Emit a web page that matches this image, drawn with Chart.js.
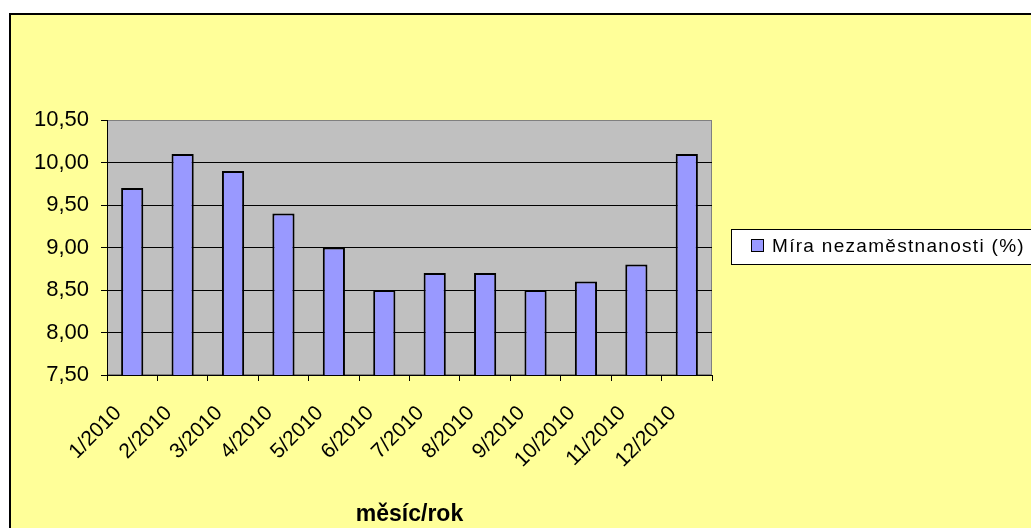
<!DOCTYPE html>
<html>
<head>
<meta charset="utf-8">
<script src="https://cdn.jsdelivr.net/npm/chart.js@4"></script>
<style>
  html, body { margin: 0; padding: 0; background: #ffffff; }
  #c { display: block; }
</style>
</head>
<body>
<canvas id="c" width="1031" height="528"></canvas>
<script>
const categories = ['1/2010','2/2010','3/2010','4/2010','5/2010','6/2010','7/2010','8/2010','9/2010','10/2010','11/2010','12/2010'];
const seriesLabel = 'Míra nezaměstnanosti (%)';
const unemployment = [9.7, 10.1, 9.9, 9.4, 9.0, 8.5, 8.7, 8.7, 8.5, 8.6, 8.8, 10.1];
const yTicks = [7.5, 8.0, 8.5, 9.0, 9.5, 10.0, 10.5];
const xTitle = 'měsíc/rok';

const FONT = "'Liberation Sans', Arial, sans-serif";

const frame = {
  id: 'frame',
  beforeDraw(chart) {
    const ctx = chart.ctx;
    const a = chart.chartArea;
    ctx.save();
    ctx.fillStyle = '#ffffff';
    ctx.fillRect(0, 0, chart.width, chart.height);
    ctx.fillStyle = '#000000';
    ctx.fillRect(9, 13, chart.width - 9, chart.height - 13);
    ctx.fillStyle = '#FFFF99';
    ctx.fillRect(11, 15, chart.width - 11, chart.height - 15);
    // plot area
    ctx.fillStyle = '#C0C0C0';
    ctx.fillRect(a.left, a.top, a.right - a.left, a.bottom - a.top);
    ctx.strokeStyle = '#808080';
    ctx.lineWidth = 1;
    ctx.strokeRect(a.left + 0.5, a.top + 0.5, a.right - a.left - 1, a.bottom - a.top - 1);
    ctx.restore();
  },
  afterDraw(chart) {
    const ctx = chart.ctx;
    const ds = chart.data.datasets[0];
    ctx.save();
    // legend box
    ctx.fillStyle = '#ffffff';
    ctx.fillRect(731.5, 229.5, 310, 35);
    ctx.strokeStyle = '#000000';
    ctx.lineWidth = 1;
    ctx.strokeRect(731.5, 229.5, 310, 35);
    ctx.fillStyle = ds.backgroundColor;
    ctx.fillRect(751.5, 239.5, 12, 12);
    ctx.strokeRect(751.5, 239.5, 12, 12);
    ctx.fillStyle = '#000000';
    ctx.font = "19px " + FONT;
    ctx.textBaseline = 'middle';
    ctx.textAlign = 'left';
    try { ctx.letterSpacing = '1.3px'; } catch (e) {}
    ctx.fillText(ds.label, 772, 246.5);
    ctx.restore();
  }
};

new Chart(document.getElementById('c'), {
  type: 'bar',
  data: {
    labels: categories,
    datasets: [{
      label: seriesLabel,
      data: unemployment,
      backgroundColor: '#9999FF',
      borderColor: '#000000',
      borderWidth: 2,
      borderSkipped: 'bottom',
      barPercentage: 0.44,
      categoryPercentage: 1.0
    }]
  },
  plugins: [frame],
  options: {
    responsive: false,
    animation: false,
    devicePixelRatio: 1,
    layout: { padding: { left: 0, top: 120, right: 319, bottom: 0 } },
    plugins: {
      legend: { display: false },
      tooltip: { enabled: false },
      title: { display: false }
    },
    scales: {
      x: {
        offset: true,
        grid: {
          offset: true,
          drawOnChartArea: false,
          drawTicks: true,
          tickLength: 6,
          color: '#000000',
          tickColor: '#000000',
          lineWidth: 1
        },
        border: { display: true, color: '#000000', width: 1 },
        ticks: {
          color: '#000000',
          font: { family: FONT, size: 21 },
          maxRotation: 45,
          minRotation: 45,
          autoSkip: false,
          padding: 20,
          labelOffset: -14
        },
        title: {
          display: true,
          text: xTitle,
          color: '#000000',
          font: { family: FONT, size: 23, weight: 'bold' },
          padding: { top: 0, bottom: 0 }
        },
        afterFit(scale) { scale.height = 153; }
      },
      y: {
        min: 7.5,
        max: 10.5,
        afterBuildTicks(scale) { scale.ticks = yTicks.map(v => ({ value: v })); },
        grid: {
          drawOnChartArea: true,
          drawTicks: true,
          tickLength: 6,
          color: (ctx) => (ctx.tick && ctx.tick.value === 10.5) ? '#808080' : '#000000',
          tickColor: '#000000',
          lineWidth: 1
        },
        border: { display: true, color: '#000000', width: 1 },
        ticks: {
          color: '#000000',
          font: { family: FONT, size: 22 },
          padding: 12,
          callback: (v) => Number(v).toFixed(2).replace('.', ',')
        },
        afterFit(scale) { scale.width = 107; }
      }
    }
  }
});
</script>
</body>
</html>
